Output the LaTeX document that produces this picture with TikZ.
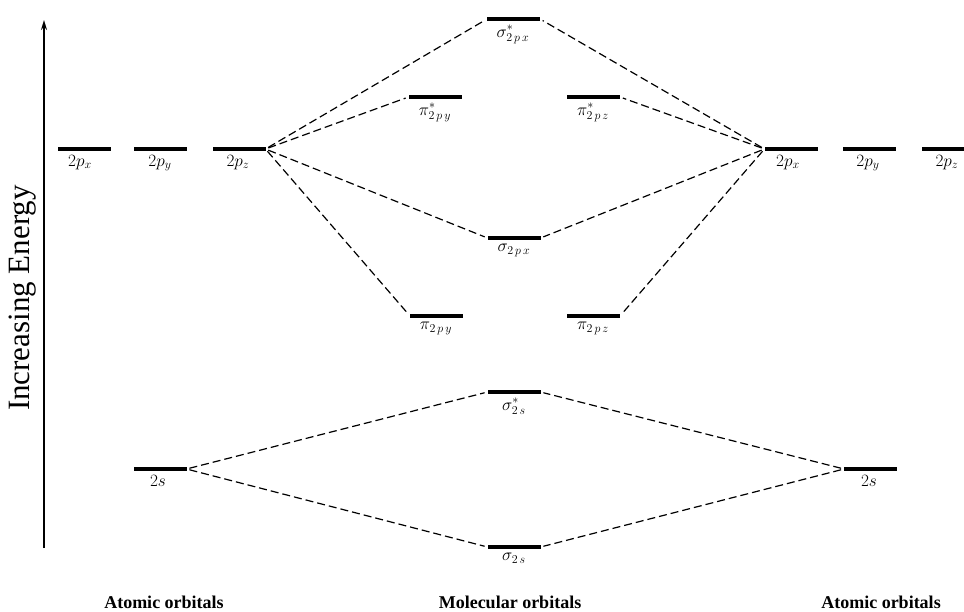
\documentclass[tikz,border=0pt]{standalone}
\usepackage{fontspec}
\setmainfont{Liberation Serif}
\usetikzlibrary{arrows.meta}
\begin{document}
\begin{tikzpicture}[x=1pt,y=-1pt,
  lvl/.style={fill=black,minimum width=53pt,minimum height=4.5pt,inner sep=0pt,outer sep=0pt},
  lbl/.style={font=\fontsize{18}{20}\selectfont,inner sep=1pt},
  conn/.style={line width=1.2pt,dash pattern=on 8pt off 4pt,shorten <=3pt,shorten >=3pt},
  foot/.style={font=\fontsize{18}{20}\selectfont\bfseries}]
\useasboundingbox[fill=white] (0,0) rectangle (964,611);
% axis
\coordinate (ab) at (44,548);
\coordinate (at) at (44,20);
\draw[line width=1.5pt,-{Stealth[length=10pt,width=6pt]}] (ab) -- (at);
\node[rotate=90,font=\fontsize{31}{34}\selectfont] (ie) at (23,298) {Increasing Energy};
% left atomic 2p
\node[lvl] (lpx) at (84,149) {};
\node[lvl] (lpy) at (160,149) {};
\node[lvl] (lpz) at (239,149) {};
\node[lbl,anchor=north] (llpx) at (80,154) {$2p_x$};
\node[lbl,anchor=north] (llpy) at (160,154) {$2p_y$};
\node[lbl,anchor=north] (llpz) at (238,154) {$2p_z$};
% right atomic 2p
\node[lvl] (rpx) at (791,149) {};
\node[lvl] (rpy) at (869,149) {};
\node[lvl] (rpz) at (948,149) {};
\node[lbl,anchor=north] (lrpx) at (788,154) {$2p_x$};
\node[lbl,anchor=north] (lrpy) at (868,154) {$2p_y$};
\node[lbl,anchor=north] (lrpz) at (947,154) {$2p_z$};
% molecular orbitals
\node[lvl] (ssx) at (513.5,19) {};
\node[lvl] (spy) at (435,97) {};
\node[lvl] (spz) at (593.5,97) {};
\node[lvl] (sx) at (514,238) {};
\node[lvl] (py) at (436.5,316) {};
\node[lvl] (pz) at (593.5,316) {};
\node[lvl] (sss) at (514,392) {};
\node[lvl] (ss) at (514,547) {};
\node[lbl,anchor=north] (lssx) at (513,24) {$\sigma^{*}_{2\,p\,x}$};
\node[lbl,anchor=north] (lspy) at (435,102) {$\pi^{*}_{2\,p\,y}$};
\node[lbl,anchor=north] (lspz) at (593,102) {$\pi^{*}_{2\,p\,z}$};
\node[lbl,anchor=north] (lsx) at (514,243) {$\sigma_{2\,p\,x}$};
\node[lbl,anchor=north] (lpyy) at (436,321) {$\pi_{2\,p\,y}$};
\node[lbl,anchor=north] (lpzz) at (593,321) {$\pi_{2\,p\,z}$};
\node[lbl,anchor=north] (lsss) at (514,397) {$\sigma^{*}_{2\,s}$};
\node[lbl,anchor=north] (lss) at (514,552) {$\sigma_{2\,s}$};
% atomic 2s
\node[lvl] (l2s) at (160,469) {};
\node[lvl] (r2s) at (870.5,469) {};
\node[lbl,anchor=north] (ll2s) at (158,474) {$2s$};
\node[lbl,anchor=north] (lr2s) at (869,474) {$2s$};
% connectors
\foreach \t in {ssx,spy,sx,py} \draw[conn] (lpz.east) -- (\t.west);
\foreach \t in {ssx,spz,sx,pz} \draw[conn] (rpx.west) -- (\t.east);
\foreach \t in {sss,ss} \draw[conn] (l2s.east) -- (\t.west);
\foreach \t in {sss,ss} \draw[conn] (r2s.west) -- (\t.east);
% footers
\node[foot] (fa) at (164,602) {Atomic orbitals};
\node[foot] (fm) at (510,602) {Molecular orbitals};
\node[foot] (fb) at (881,602) {Atomic orbitals};
\end{tikzpicture}
\end{document}
